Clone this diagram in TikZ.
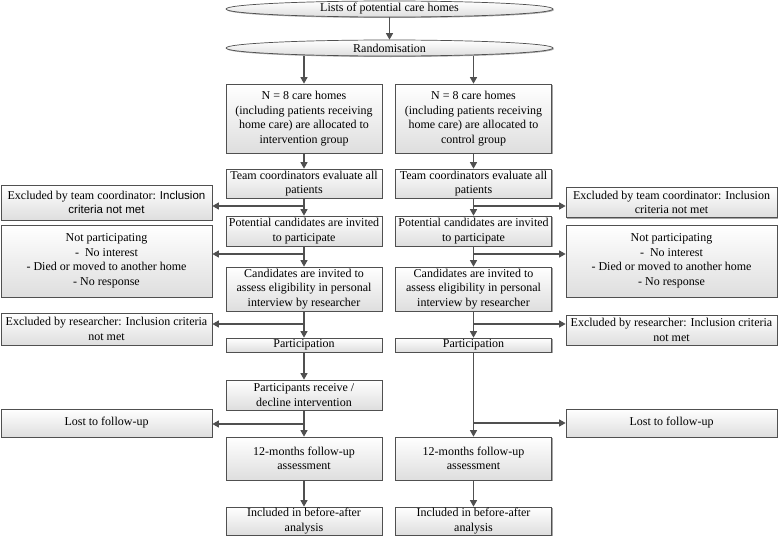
\documentclass[tikz,border=0pt]{standalone}
\usepackage{fontspec}
\setmainfont{Liberation Serif}
\newfontfamily\arialfont{Liberation Sans}
\usetikzlibrary{arrows.meta,shapes.geometric,shadows}
\definecolor{L}{RGB}{80,80,80}
\definecolor{F}{RGB}{222,222,222}

\tikzset{
	box/.style={draw=L, line width=0.7pt, top color=white, bottom color=F,
		align=center, inner sep=1pt, font=\rmfamily\fontsize{12}{14.5}\selectfont,
		drop shadow={shadow xshift=1pt, shadow yshift=-1pt, fill=gray!70, opacity=1}},
	colbox/.style={box, minimum width=156pt},
	sidebox/.style={box, minimum width=211pt},
	oval/.style={box, ellipse, minimum width=327pt, minimum height=16pt, inner sep=0pt},
	arr/.style={draw=L, line width=1.2pt, -{Triangle[length=6.5pt,width=7pt]}}
}

\begin{document}
\begin{tikzpicture}[x=1pt,y=-1pt]
	\useasboundingbox (0,0) rectangle (779,538);

	%Top of the chart
	\node[oval] (list) at (389.5,9) {Lists of potential care homes};
	\node[oval] (rand) at (389.5,48) {Randomisation};

	%Intervention group (left)
	\node[colbox, minimum height=69pt] (alloc1) at (304,118.5) {N = 8 care homes\\(including patients receiving\\home care) are allocated to\\intervention group};
	\node[colbox, minimum height=29pt] (team1) at (304,183.5) {Team coordinators evaluate all\\patients};
	\node[colbox, minimum height=30pt] (pot1) at (304,231) {Potential candidates are invited\\to participate};
	\node[colbox, minimum height=44pt] (cand1) at (304,289) {Candidates are invited to\\assess eligibility in personal\\interview by researcher};
	\node[colbox, minimum height=14pt] (part1) at (304,345) {Participation};
	\node[colbox, minimum height=30pt] (recv1) at (304,395) {Participants receive /\\decline intervention};
	\node[colbox, minimum height=43pt] (foll1) at (304,458.5) {12-months follow-up\\assessment};
	\node[colbox, minimum height=28pt] (incl1) at (304,521) {Included in before-after\\analysis};

	%Control group (right)
	\node[colbox, minimum height=69pt] (alloc2) at (473.5,118.5) {N = 8 care homes\\(including patients receiving\\home care) are allocated to\\control group};
	\node[colbox, minimum height=29pt] (team2) at (473.5,183.5) {Team coordinators evaluate all\\patients};
	\node[colbox, minimum height=30pt] (pot2) at (473.5,231) {Potential candidates are invited\\to participate};
	\node[colbox, minimum height=44pt] (cand2) at (473.5,289) {Candidates are invited to\\assess eligibility in personal\\interview by researcher};
	\node[colbox, minimum height=14pt] (part2) at (473.5,345) {Participation};
	\node[colbox, minimum height=43pt] (foll2) at (473.5,458.5) {12-months follow-up\\assessment};
	\node[colbox, minimum height=28pt] (incl2) at (473.5,521) {Included in before-after\\analysis};

	%Drop-outs left
	\node[sidebox, minimum height=35pt] (exclT1) at (106.5,202.5) {Excluded by team coordinator: {\arialfont\fontsize{11.5}{14.5}\selectfont Inclusion}\\{\arialfont\fontsize{11.5}{14.5}\selectfont criteria not met}};
	\node[sidebox, minimum height=72pt] (notp1) at (106.5,261) {Not participating\\-\ \ No interest\\- Died or moved to another home\\- No response};
	\node[sidebox, minimum height=32pt] (exclR1) at (106.5,329) {Excluded by researcher: Inclusion criteria\\not met};
	\node[sidebox, minimum height=28pt] (lost1) at (106.5,423) {Lost to follow-up};

	%Drop-outs right
	\node[sidebox, minimum height=30pt] (exclT2) at (671.5,202.5) {Excluded by team coordinator: Inclusion\\criteria not met};
	\node[sidebox, minimum height=72pt] (notp2) at (671.5,261) {Not participating\\-\ \ No interest\\- Died or moved to another home\\- No response};
	\node[sidebox, minimum height=30pt] (exclR2) at (671.5,330) {Excluded by researcher: Inclusion criteria\\not met};
	\node[sidebox, minimum height=28pt] (lost2) at (671.5,423) {Lost to follow-up};

	%Branch points
	\coordinate (jT1) at (304,206);
	\coordinate (jN1) at (304,254);
	\coordinate (jR1) at (304,324);
	\coordinate (jL1) at (304,424);
	\coordinate (jT2) at (473.5,206);
	\coordinate (jN2) at (473.5,254);
	\coordinate (jR2) at (473.5,324);
	\coordinate (jL2) at (473.5,423);

	%Main arrows
	\draw[arr] (list) -- (rand);
	\draw[arr] (rand.south -| alloc1.north) -- (alloc1);
	\draw[arr] (rand.south -| alloc2.north) -- (alloc2);
	\draw[arr] (alloc1) -- (team1);
	\draw[arr] (team1) -- (pot1);
	\draw[arr] (pot1) -- (cand1);
	\draw[arr] (cand1) -- (part1);
	\draw[arr] (part1) -- (recv1);
	\draw[arr] (recv1) -- (foll1);
	\draw[arr] (foll1) -- (incl1);
	\draw[arr] (alloc2) -- (team2);
	\draw[arr] (team2) -- (pot2);
	\draw[arr] (pot2) -- (cand2);
	\draw[arr] (cand2) -- (part2);
	\draw[arr] (part2) -- (foll2);
	\draw[arr] (foll2) -- (incl2);

	%Side arrows
	\draw[arr] (jT1) -- (exclT1.east |- jT1);
	\draw[arr] (jN1) -- (notp1.east |- jN1);
	\draw[arr] (jR1) -- (exclR1.east |- jR1);
	\draw[arr] (jL1) -- (lost1.east |- jL1);
	\draw[arr] (jT2) -- (exclT2.west |- jT2);
	\draw[arr] (jN2) -- (notp2.west |- jN2);
	\draw[arr] (jR2) -- (exclR2.west |- jR2);
	\draw[arr] (jL2) -- (lost2.west |- jL2);
\end{tikzpicture}
\end{document}
